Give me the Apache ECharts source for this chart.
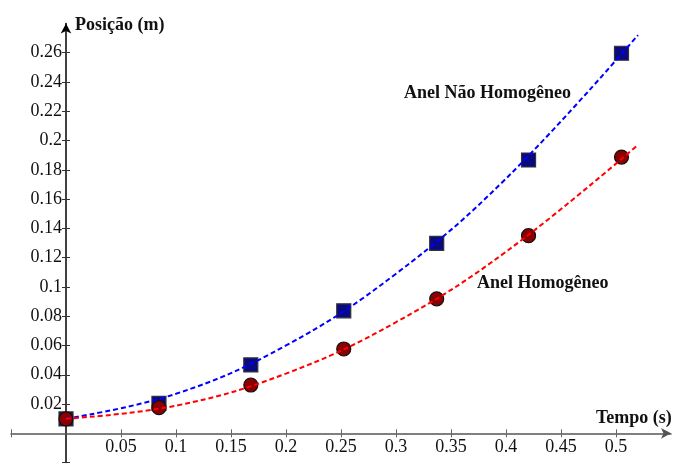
<!DOCTYPE html>
<html>
<head>
<meta charset="utf-8">
<script src="https://cdn.jsdelivr.net/npm/echarts@6/dist/echarts.min.js"></script>
<style>html,body{margin:0;padding:0;background:#fff}#c{width:673px;height:466px}</style>
</head>
<body>
<div id="c"></div>
<script>
// Measured data (tempo em s, posição em m)
var tempo = [0, 0.0845, 0.168, 0.2525, 0.337, 0.4205, 0.505];
var posNaoHomogeneo = [0.0098, 0.0205, 0.0467, 0.0837, 0.1298, 0.1867, 0.2596];
var posHomogeneo = [0.0098, 0.0175, 0.0330, 0.0576, 0.0919, 0.1350, 0.1887];
// Fitted curves
var curveT = [0, 0.1, 0.2, 0.3, 0.4, 0.52];
var curveNaoHomogeneo = [0.0100, 0.0270, 0.0600, 0.1090, 0.1740, 0.2720];
var curveHomogeneo = [0.0100, 0.0189, 0.0408, 0.0759, 0.1240, 0.1970];
// Axes
var xRange = [-0.05, 0.55], xStep = 0.05;
var yRange = [-0.02, 0.28], yStep = 0.02;
var xTicks = [-0.05, 0.05, 0.1, 0.15, 0.2, 0.25, 0.3, 0.35, 0.4, 0.45, 0.5];
var yTicks = [-0.02, 0.02, 0.04, 0.06, 0.08, 0.1, 0.12, 0.14, 0.16, 0.18, 0.2, 0.22, 0.24, 0.26];
var labelNames = { x: 'Tempo (s)', y: 'Posição (m)', s1: 'Anel Não Homogêneo', s2: 'Anel Homogêneo' };

var W = 673, H = 466;
var G = { left: 11, right: 2, top: 23.4, bottom: 3.4 };
var gw = W - G.left - G.right, gh = H - G.top - G.bottom;
// distance of the zero lines from the grid edges
var zeroFromBottom = gh * (0 - yRange[0]) / (yRange[1] - yRange[0]);
var zeroFromLeft = gw * (0 - xRange[0]) / (xRange[1] - xRange[0]);

function zip(a, b) { return a.map(function (v, i) { return [v, b[i]]; }); }
var serif = 'Liberation Serif';
var boldFont = 'bold 18px "Liberation Serif"';
function fmt(limitHi) {
  return function (v) { return (v <= 0.0001 || v > limitHi) ? '' : String(+v.toFixed(2)); };
}
function xAx(pos, main, off) {
  return {
    type: 'value', position: pos, offset: off, min: xRange[0], max: xRange[1], interval: xStep,
    axisLine: { show: main, onZero: false, symbol: ['none', 'arrow'], symbolSize: [8, 10],
      lineStyle: { color: '#555', width: 1.5 } },
    axisTick: { show: true, inside: false, length: 4, lineStyle: { color: '#666', width: 1 },
      customValues: xTicks },
    axisLabel: { show: main, margin: 5, formatter: fmt(0.52), fontFamily: serif, fontSize: 18, color: '#111' },
    splitLine: { show: false }
  };
}
function yAx(pos, main, off) {
  return {
    type: 'value', position: pos, offset: off, min: yRange[0], max: yRange[1], interval: yStep,
    axisLine: { show: main, onZero: false, symbol: ['none', 'arrow'], symbolSize: [8, 10],
      lineStyle: { color: '#000', width: 1.5 } },
    axisTick: { show: true, inside: false, length: 4, lineStyle: { color: '#333', width: 1 },
      customValues: yTicks },
    axisLabel: { show: main, margin: 4, formatter: fmt(0.27), fontFamily: serif, fontSize: 18, color: '#111' },
    splitLine: { show: false }
  };
}

var chart = echarts.init(document.getElementById('c'), null, { renderer: 'canvas' });
chart.setOption({
  animation: false,
  backgroundColor: '#fff',
  grid: { left: G.left, right: G.right, top: G.top, bottom: G.bottom, containLabel: false, outerBoundsMode: 'none' },
  xAxis: [xAx('bottom', true, -zeroFromBottom), xAx('top', false, -(gh - zeroFromBottom))],
  yAxis: [yAx('left', true, -zeroFromLeft), yAx('right', false, -(gw - zeroFromLeft))],
  graphic: [
    { type: 'text', left: 75, top: 16, style: { text: labelNames.y, font: boldFont, fill: '#111' } },
    { type: 'text', left: 596, top: 409, style: { text: labelNames.x, font: boldFont, fill: '#111' } },
    { type: 'text', left: 404, top: 84, style: { text: labelNames.s1, font: boldFont, fill: '#111' } },
    { type: 'text', left: 477, top: 274, style: { text: labelNames.s2, font: boldFont, fill: '#111' } }
  ],
  series: [
    { type: 'scatter', name: labelNames.s1, data: zip(tempo, posNaoHomogeneo), symbol: 'rect', symbolSize: 14, z: 2,
      itemStyle: { color: '#0a0a80', borderColor: '#333', borderWidth: 1.2, opacity: 1 } },
    { type: 'scatter', name: labelNames.s2, data: zip(tempo, posHomogeneo), symbol: 'circle', symbolSize: 14, z: 3,
      itemStyle: { color: '#8b0000', borderColor: '#111', borderWidth: 1.2, opacity: 1 } },
    { type: 'line', data: zip(curveT, curveNaoHomogeneo), smooth: 0.4, showSymbol: false, symbol: 'none', z: 4,
      lineStyle: { color: '#0000ff', width: 2, type: [5, 3] } },
    { type: 'line', data: zip(curveT, curveHomogeneo), smooth: 0.4, showSymbol: false, symbol: 'none', z: 5,
      lineStyle: { color: '#ff0000', width: 2, type: [5, 3] } }
  ]
});
</script>
</body>
</html>
